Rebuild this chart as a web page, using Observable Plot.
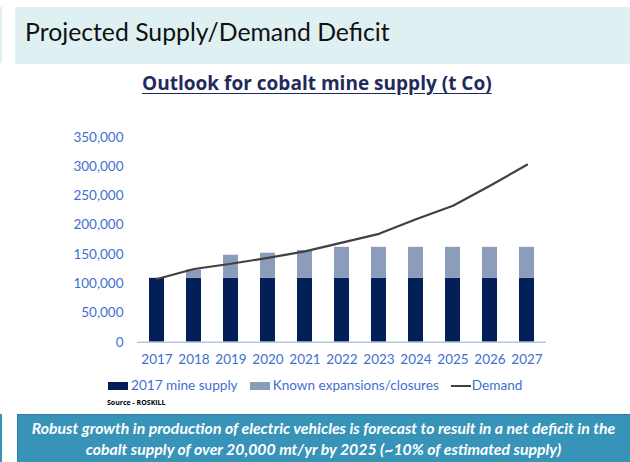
<!DOCTYPE html>
<html>
<head>
<meta charset="utf-8">
<script src="https://cdn.jsdelivr.net/npm/d3@7"></script>
<script src="https://cdn.jsdelivr.net/npm/@observablehq/plot@0.6"></script>
<style>
  html, body { margin: 0; padding: 0; background: #fff; }
  body { width: 630px; height: 462px; position: relative; overflow: hidden; font-family: Lato, "Open Sans", sans-serif; }
  .abs { position: absolute; white-space: nowrap; }
  #topstrip { left: 0; top: 7px; width: 2px; height: 56px; background: #dff0f2; }
  #topbanner { left: 15px; top: 7px; width: 615px; height: 57px; background: #dff0f2; }
  #maintitle { left: 25px; top: 20px; font-size: 26px; color: #111; font-family: Lato, sans-serif; line-height: 1; }
  #charttitle { left: 142px; top: 73px; font-size: 18px; font-weight: bold; color: #1f2b5c; text-decoration: underline; text-underline-offset: 3px; font-family: "Open Sans", sans-serif; line-height: 1.1; }
  #chart { left: 0; top: 100px; }
  #legend { left: 108px; top: 379px; font-size: 13.6px; color: #3f6fd1; display: flex; align-items: center; line-height: 1; }
  .sw { display: inline-block; width: 20px; height: 8px; margin-right: 3px; }
  .ln { display: inline-block; width: 20px; height: 2px; background: #404040; margin-right: 1px; }
  .item { display: flex; align-items: center; margin-right: 12px; }
  #source { left: 107px; top: 398px; font-size: 7px; font-weight: bold; color: #000; font-family: "Open Sans", sans-serif; }
  #botstrip { left: 0; top: 414px; width: 2px; height: 48px; background: #3793b8; }
  #botbanner { left: 17px; top: 414px; width: 613px; height: 48px; background: #3793b8; border-top: 1px solid #2d7fa3; border-left: 1px solid #2d7fa3; box-sizing: border-box; }
  .bt { left: 17px; width: 613px; text-align: center; color: #fff; font-weight: bold; font-style: italic; font-size: 14px; line-height: 1; font-family: Lato, sans-serif; }
</style>
</head>
<body>
<div id="topstrip" class="abs"></div>
<div id="topbanner" class="abs"></div>
<div id="maintitle" class="abs">Projected Supply/Demand Deficit</div>
<div id="charttitle" class="abs">Outlook for cobalt mine supply (t Co)</div>
<div id="chart" class="abs"></div>
<div id="legend" class="abs"></div>
<div id="source" class="abs">Source - ROSKILL</div>
<div id="botstrip" class="abs"></div>
<div id="botbanner" class="abs"></div>
<div id="bt1" class="abs bt" style="top:420px">Robust growth in production of electric vehicles is forecast to result in a net deficit in the</div>
<div id="bt2" class="abs bt" style="top:441px">cobalt supply of over 20,000 mt/yr by 2025 (~10% of estimated supply)</div>
<script>
// ---- data ----
const years = ["2017","2018","2019","2020","2021","2022","2023","2024","2025","2026","2027"];
const mineSupply2017 = [109000,109000,109000,109000,109000,109000,109000,109000,109000,109000,109000];
const knownExpansions = [0,14500,39500,43000,47500,53000,53000,53000,53000,53000,53000];
const demand = [108000,125000,134000,144000,155000,170000,185000,210000,233000,267000,303000];
const seriesNames = ["2017 mine supply","Known expansions/closures"];
const seriesColors = ["#031f57","#8c9dbb"];
const demandName = "Demand";
const yTicks = [0,50000,100000,150000,200000,250000,300000,350000];

// ---- build tables ----
const stacked = [];
years.forEach((yr, i) => {
  stacked.push({year: yr, series: seriesNames[0], value: mineSupply2017[i]});
  stacked.push({year: yr, series: seriesNames[1], value: knownExpansions[i]});
});
const demandData = years.map((yr, i) => ({year: yr, demand: demand[i]}));
const fmt = d3.format(",d");

const chart = Plot.plot({
  width: 630,
  height: 280,
  marginLeft: 137,
  marginRight: 84,
  marginTop: 36.7,
  marginBottom: 38.3,
  style: {fontFamily: "Lato, 'Open Sans', sans-serif", fontSize: "13.5px", color: "#3f6fd1", background: "transparent", overflow: "visible"},
  x: {type: "band", domain: years, paddingInner: 0.6, paddingOuter: 0.3, label: null, tickSize: 0, tickPadding: 12},
  y: {domain: [0, 350000], ticks: yTicks, tickFormat: d => fmt(d), label: null, tickSize: 0, tickPadding: 14},
  color: {domain: seriesNames, range: seriesColors},
  marks: [
    Plot.barY(stacked, {x: "year", y: "value", fill: "series", order: seriesNames}),
    Plot.ruleY([0], {stroke: "#b4c7e7", strokeWidth: 1.5}),
    Plot.line(demandData, {x: "year", y: "demand", stroke: "#404040", strokeWidth: 2.2})
  ]
});
document.getElementById("chart").appendChild(chart);

// legend
const legend = document.getElementById("legend");
seriesNames.forEach((s, i) => {
  const it = document.createElement("div");
  it.className = "item";
  it.innerHTML = `<span class="sw" style="background:${seriesColors[i]}"></span><span>${s}</span>`;
  legend.appendChild(it);
});
const itl = document.createElement("div");
itl.className = "item";
itl.innerHTML = `<span class="ln"></span><span>${demandName}</span>`;
legend.appendChild(itl);

// fit some text widths to the reference
function measure(el) {
  const span = document.createElement("span");
  span.textContent = el.textContent;
  const cs = getComputedStyle(el);
  span.style.cssText = `position:absolute;visibility:hidden;white-space:nowrap;font:${cs.font};`;
  document.body.appendChild(span);
  const w = span.getBoundingClientRect().width;
  span.remove();
  return w;
}
function fitWidth(id, target) {
  const el = document.getElementById(id);
  const w = measure(el);
  const fs = parseFloat(getComputedStyle(el).fontSize);
  const nfs = fs * target / w;
  el.style.fontSize = nfs + "px";
  return nfs;
}
fitWidth("maintitle", 365);
fitWidth("charttitle", 350);
const bfs = fitWidth("bt1", 584);
document.getElementById("bt2").style.fontSize = bfs + "px";
</script>
</body>
</html>
